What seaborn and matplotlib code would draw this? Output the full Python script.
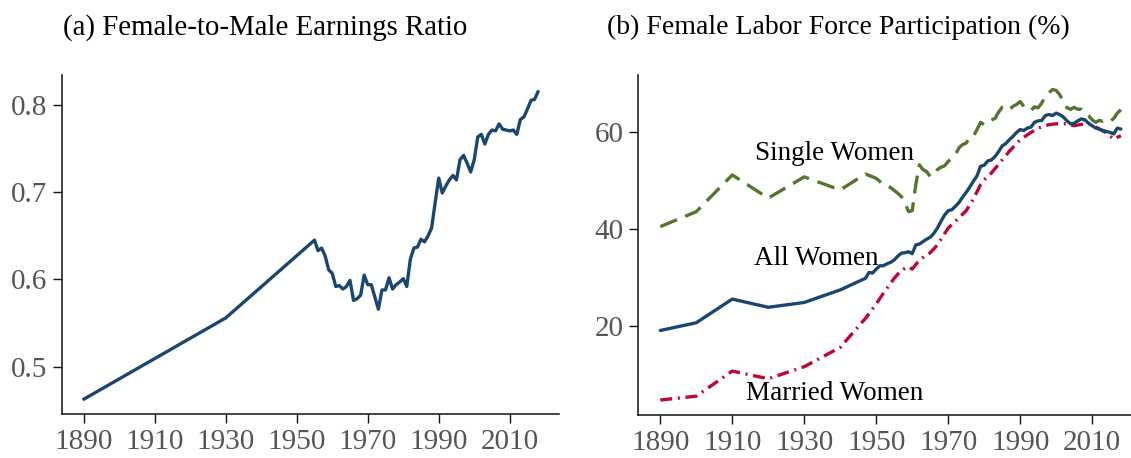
import pandas as pd
import matplotlib.pyplot as plt
import seaborn as sns

# (a) female-to-male earnings ratio
ratio_years = [1890, 1930] + list(range(1955, 2019))
ratio_vals = [0.463, 0.556,
              0.645, 0.633, 0.636, 0.627, 0.611, 0.607, 0.592, 0.593, 0.589, 0.592,
              0.599, 0.576, 0.578, 0.582, 0.605, 0.594, 0.594, 0.580, 0.566, 0.588,
              0.588, 0.602, 0.589, 0.594, 0.597, 0.601, 0.592, 0.623, 0.636, 0.637,
              0.646, 0.643, 0.650, 0.659, 0.688, 0.716, 0.699, 0.707, 0.714, 0.719,
              0.714, 0.737, 0.742, 0.733, 0.723, 0.737, 0.763, 0.766, 0.755, 0.766,
              0.771, 0.770, 0.778, 0.772, 0.771, 0.770, 0.771, 0.766, 0.783, 0.786,
              0.795, 0.805, 0.806, 0.815]

# (b) labor force participation, %
all_years = [1890, 1900, 1910, 1920, 1930, 1940] + list(range(1947, 2019))
all_vals = [19.0, 20.6, 25.5, 23.8, 24.8, 27.4,
            29.8, 31.0, 30.9, 31.7, 32.4, 32.4, 32.8, 33.1, 33.6, 34.4, 35.0, 35.1,
            35.3, 34.9, 36.7, 36.9, 37.4, 37.9, 38.3, 39.1, 40.2, 41.6, 42.9, 43.8,
            44.0, 44.7, 45.5, 46.6, 47.6, 48.7, 49.9, 51.0, 53.0, 53.2, 54.1, 54.3,
            55.0, 56.0, 57.2, 57.7, 58.5, 59.2, 60.0, 60.6, 60.4, 60.9, 61.1, 62.1,
            62.4, 62.5, 63.5, 63.7, 63.5, 64.0, 63.7, 63.2, 62.4, 61.8, 61.9, 62.4,
            62.8, 62.6, 61.9, 61.4, 60.9, 60.7, 60.4, 60.2, 60.0, 59.7, 60.9, 60.7]

single_years = [1890, 1900, 1910, 1920, 1930, 1940, 1947, 1950, 1952, 1954] + list(range(1956, 2019))
single_vals = [40.5, 43.6, 51.2, 46.4, 50.8, 48.1, 51.4, 50.5, 49.2, 48.6,
               47.4, 46.7, 45.4, 43.6, 43.8, 49.2, 53.3, 52.3, 51.9, 50.9, 51.2,
               52.3, 52.8, 53.1, 54.0, 54.7, 55.4, 56.8, 57.5, 57.8, 59.0, 59.2,
               60.6, 62.1, 61.6, 62.1, 62.6, 62.9, 64.2, 65.2, 65.3, 64.7, 65.4,
               65.8, 66.4, 65.4, 64.8, 64.6, 65.3, 65.1, 66.1, 67.5, 68.2, 68.9,
               68.7, 67.8, 66.4, 65.1, 64.8, 65.2, 64.8, 64.8, 64.0, 63.5, 62.6,
               62.1, 62.5, 62.3, 62.6, 62.3, 62.9, 64.0, 64.7]

married_years = [1890, 1900, 1910, 1920, 1930, 1940, 1947, 1950, 1952, 1955, 1957,
                 1959, 1960, 1962, 1965, 1967, 1970, 1972, 1975, 1977, 1979, 1980,
                 1982, 1985, 1987, 1990, 1993, 1995, 1998, 2000, 2003, 2005, 2008,
                 2010, 2012, 2014, 2016, 2017, 2018]
married_vals = [4.6, 5.4, 10.6, 9.0, 11.5, 15.5, 21.5, 24.5, 26.7, 29.8, 31.5,
                32.2, 31.7, 33.6, 35.1, 36.7, 40.2, 41.6, 43.8, 46.2, 49.2, 50.2,
                51.6, 54.3, 56.1, 58.5, 60.0, 60.9, 61.6, 61.8, 61.8, 61.4, 61.8,
                61.6, 60.7, 59.9, 58.6, 59.0, 59.3]

navy = '#1a476f'
green = '#55752f'
red = '#c10534'

sns.set_style('ticks')
plt.rcParams['font.family'] = ['Liberation Serif', 'DejaVu Serif']

fig = plt.figure(figsize=(11.31, 4.58), dpi=100)
ax1 = fig.add_axes([0.0546, 0.0950, 0.4397, 0.7413])
ax2 = fig.add_axes([0.5644, 0.0939, 0.4356, 0.7424])

lw = 2.4

df_ratio = pd.DataFrame({'year': ratio_years, 'ratio': ratio_vals})
sns.lineplot(data=df_ratio, x='year', y='ratio', ax=ax1, color=navy, linewidth=lw)
ax1.set_xlim(1883.8, 2023.9)
ax1.set_ylim(0.4455, 0.834)
ax1.set_yticks([0.5, 0.6, 0.7, 0.8])

df_all = pd.DataFrame({'year': all_years, 'lfp': all_vals})
df_single = pd.DataFrame({'year': single_years, 'lfp': single_vals})
df_married = pd.DataFrame({'year': married_years, 'lfp': married_vals})
sns.lineplot(data=df_single, x='year', y='lfp', ax=ax2, color=green, linewidth=lw,
             linestyle=(0, (5.4, 2.7)))
sns.lineplot(data=df_married, x='year', y='lfp', ax=ax2, color=red, linewidth=lw,
             linestyle=(0, (3.6, 1.7, 0.6, 1.7)))
sns.lineplot(data=df_all, x='year', y='lfp', ax=ax2, color=navy, linewidth=lw)
ax2.set_xlim(1883.9, 2020.8)
ax2.set_ylim(1.5, 71.9)
ax2.set_yticks([20, 40, 60])

ax2.text(1916.3, 54.3, 'Single Women', fontsize=19.5, color='black', ha='left', va='baseline')
ax2.text(1916.0, 32.6, 'All Women', fontsize=19.5, color='black', ha='left', va='baseline')
ax2.text(1913.8, 4.6, 'Married Women', fontsize=19.5, color='black', ha='left', va='baseline')

for ax in (ax1, ax2):
    ax.set_xticks(range(1890, 2011, 20))
    ax.set_xlabel('')
    ax.set_ylabel('')
    sns.despine(ax=ax)
    for side in ('left', 'bottom'):
        ax.spines[side].set_linewidth(1.1)
        ax.spines[side].set_color('#111111')
    ax.tick_params(axis='both', length=6.5, width=1.0, color='#111111',
                   labelsize=21, labelcolor='#555555')
    ax.tick_params(axis='x', pad=4)
    ax.tick_params(axis='y', pad=4)

fig.text(63 / 1131, 0.925, '(a) Female-to-Male Earnings Ratio',
         fontsize=20.8, color='black', ha='left', va='baseline')
fig.text(607 / 1131, 0.925, '(b) Female Labor Force Participation (%)',
         fontsize=20, color='black', ha='left', va='baseline')

fig.savefig('out.png', dpi=100)
